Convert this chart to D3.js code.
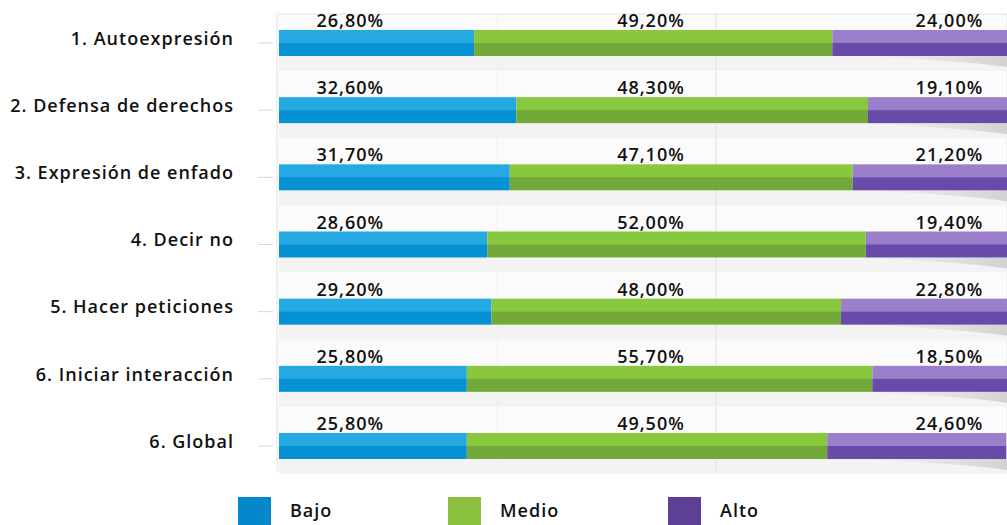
<!DOCTYPE html>
<html>
<head>
<meta charset="utf-8">
<script src="https://cdn.jsdelivr.net/npm/d3@7"></script>
<style>
  body { margin: 0; background: #fff; }
  text { font-family: "Open Sans", sans-serif; font-weight: 600; fill: #111; letter-spacing: 1px; }
</style>
</head>
<body>
<div id="chart"></div>
<script>
const categories = [
  "1. Autoexpresión",
  "2. Defensa de derechos",
  "3. Expresión de enfado",
  "4. Decir no",
  "5. Hacer peticiones",
  "6. Iniciar interacción",
  "6. Global"
];
const bajo  = [26.8, 32.6, 31.7, 28.6, 29.2, 25.8, 25.8];
const medio = [49.2, 48.3, 47.1, 52.0, 48.0, 55.7, 49.5];
const alto  = [24.0, 19.1, 21.2, 19.4, 22.8, 18.5, 24.6];
const seriesNames = ["Bajo", "Medio", "Alto"];

const width = 1007, height = 525;
const margin = {top: 14, right: 0, bottom: 50, left: 279};
const fontSize = 18;

// colours: legend, bar top, bar bottom
const colors = {
  Bajo:  {legend: "#0588cb", top: "#26a8e3", bottom: "#0791d5"},
  Medio: {legend: "#8cc140", top: "#88c83c", bottom: "#73a93a"},
  Alto:  {legend: "#5d3f93", top: "#9c7fcb", bottom: "#6a4aa9"}
};
// label columns, as share of the plot width
const labelCols = {Bajo: 0.143, Medio: 0.556, Alto: 0.966};

const table = categories.map((c, i) => ({cat: c, Bajo: bajo[i], Medio: medio[i], Alto: alto[i]}));
const stacked = d3.stack().keys(seriesNames)(table);

const svg = d3.select("#chart").append("svg")
  .attr("width", width).attr("height", height);

const defs = svg.append("defs");
seriesNames.forEach(k => {
  const g = defs.append("linearGradient").attr("id", "g_" + k)
    .attr("x1", 0).attr("x2", 0).attr("y1", 0).attr("y2", 1);
  g.append("stop").attr("offset", "0%").attr("stop-color", colors[k].top);
  g.append("stop").attr("offset", "48%").attr("stop-color", colors[k].top);
  g.append("stop").attr("offset", "52%").attr("stop-color", colors[k].bottom);
  g.append("stop").attr("offset", "100%").attr("stop-color", colors[k].bottom);
});
const sh = defs.append("linearGradient").attr("id", "shadow")
  .attr("x1", 0).attr("x2", 1).attr("y1", 0).attr("y2", 0);
sh.append("stop").attr("offset", "0%").attr("stop-color", "#ccc").attr("stop-opacity", 0);
sh.append("stop").attr("offset", "100%").attr("stop-color", "#aaa").attr("stop-opacity", 0.45);

const x = d3.scaleLinear()
  .domain([0, 100])
  .range([margin.left, width - margin.right]);

const y = d3.scaleBand()
  .domain(categories)
  .range([margin.top, 475])
  .paddingInner(0.613)
  .paddingOuter(0.238);

// plot background
svg.append("rect")
  .attr("x", margin.left - 2).attr("y", margin.top)
  .attr("width", width - margin.left + 2).attr("height", 470 - margin.top)
  .attr("fill", "#fbfbfb").attr("stroke", "#e4e4e4");

svg.append("g").selectAll("rect")
  .data(categories)
  .join("rect")
    .attr("x", margin.left).attr("width", width - margin.left)
    .attr("y", d => y(d) + y.bandwidth())
    .attr("height", 15)
    .attr("fill", "#f3f3f3");

// faint vertical grid
svg.append("g").selectAll("line")
  .data([30, 60])
  .join("line")
    .attr("x1", d => x(d)).attr("x2", d => x(d))
    .attr("y1", margin.top).attr("y2", 470)
    .attr("stroke", (d, i) => i ? "#e0e0e0" : "#efefef");

// shadow under the right end of each bar
svg.append("g").selectAll("path")
  .data(categories)
  .join("path")
    .attr("d", d => {
      const b = y(d) + y.bandwidth();
      return `M${x(78)},${b} Q${x(92)},${b + 3} ${x(100)},${b + 11} L${x(100)},${b} Z`;
    })
    .attr("fill", "url(#shadow)");

// left axis
const yAxis = g => g
  .attr("transform", `translate(${margin.left - 6}, 0)`)
  .call(d3.axisLeft(y).tickSize(15).tickPadding(24))
  .call(g => g.select(".domain").remove())
  .call(g => g.selectAll(".tick line").attr("stroke", "#d8d8d8"))
  .call(g => g.selectAll(".tick text")
    .attr("font-family", "Open Sans, sans-serif")
    .attr("font-size", fontSize)
    .attr("font-weight", 600)
    .attr("fill", "#111")
    .attr("dy", "0.1em"));
svg.append("g").call(yAxis);

// bars
svg.append("g")
  .selectAll("g")
  .data(stacked)
  .join("g")
    .attr("fill", d => `url(#g_${d.key})`)
  .selectAll("rect")
  .data(d => d)
  .join("rect")
    .attr("x", d => x(d[0]))
    .attr("y", d => y(d.data.cat))
    .attr("width", d => x(d[1]) - x(d[0]))
    .attr("height", y.bandwidth());

// value labels
const fmt = v => v.toFixed(2).replace(".", ",") + "%";
svg.append("g")
  .selectAll("g")
  .data(stacked)
  .join("g")
  .selectAll("text")
  .data(d => d.map(p => ({key: d.key, v: p.data[d.key], cat: p.data.cat})))
  .join("text")
    .attr("x", d => x(labelCols[d.key] * 100) + 1)
    .attr("y", d => y(d.cat) - 3)
    .attr("text-anchor", "end")
    .attr("font-size", fontSize)
    .text(d => fmt(d.v));

// legend
const legendX = [238, 448, 668];
const legend = svg.append("g")
  .selectAll("g")
  .data(seriesNames)
  .join("g")
    .attr("transform", (d, i) => `translate(${legendX[i]}, 497)`);
legend.append("rect")
  .attr("width", 33).attr("height", 28)
  .attr("fill", d => colors[d].legend);
legend.append("text")
  .attr("x", 52).attr("y", 20)
  .attr("font-size", fontSize)
  .text(d => d);
</script>
</body>
</html>
